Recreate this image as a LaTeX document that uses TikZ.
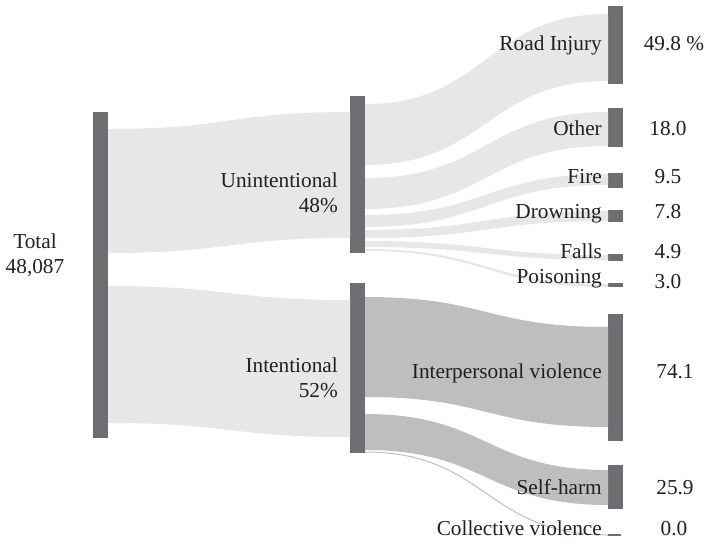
\documentclass[tikz,border=0pt]{standalone}
\usepackage{fontspec}
\setmainfont{Liberation Serif}
\usetikzlibrary{calc}
\definecolor{barc}{HTML}{6D6E71}
\definecolor{lightc}{HTML}{E6E7E8}
\definecolor{midc}{HTML}{BCBEC0}
\definecolor{txtc}{HTML}{231F20}
\tikzset{
  bar/.style={fill=barc, draw=none, minimum width=15pt, inner sep=0pt, outer sep=0pt},
  lbl/.style={anchor=base east, inner sep=0pt, text=txtc, font=\fontsize{21.3}{25}\selectfont, align=right},
  val/.style={anchor=base, inner sep=0pt, text=txtc, font=\fontsize{21.3}{25}\selectfont},
}
% #1 colour, #2 left node, #3/#4 top/bottom y at left, #5 right node, #6/#7 top/bottom y at right
\newcommand\ribbon[7]{%
  \fill[#1] let \p1=(#2.east), \p2=(#5.west), \n1={(\x1+\x2)/2} in
    (\x1,-#3pt) .. controls (\n1,-#3pt) and (\n1,-#6pt) .. (\x2,-#6pt)
    -- (\x2,-#7pt) .. controls (\n1,-#7pt) and (\n1,-#4pt) .. (\x1,-#4pt) -- cycle;}
\begin{document}
\begin{tikzpicture}[x=1pt,y=-1pt]
\useasboundingbox (0,0) rectangle (705,544);
% bars
\node[bar, minimum height=326pt] (tot) at (100.5,275) {};
\node[bar, minimum height=157pt] (unint) at (357.5,174.5) {};
\node[bar, minimum height=170pt] (inten) at (357.5,368) {};
\node[bar, minimum height=78pt] (road) at (615.5,45) {};
\node[bar, minimum height=39pt] (other) at (615.5,127.5) {};
\node[bar, minimum height=15pt] (fire) at (615.5,180) {};
\node[bar, minimum height=12pt] (drown) at (615.5,216) {};
\node[bar, minimum height=7pt] (falls) at (615.5,257) {};
\node[bar, minimum height=4pt] (poison) at (615.5,285) {};
\node[bar, minimum height=127pt] (interp) at (615.5,377.5) {};
\node[bar, minimum height=44pt] (self) at (615.5,487) {};
\node[bar, minimum height=1.2pt, minimum width=13pt] (coll) at (614.5,535) {};
% flows
\ribbon{lightc}{tot}{129}{253}{unint}{112}{238}
\ribbon{lightc}{tot}{286}{423}{inten}{300}{437}
\ribbon{lightc}{unint}{104}{165}{road}{14}{81}
\ribbon{lightc}{unint}{178}{209}{other}{112}{146}
\ribbon{lightc}{unint}{215}{227}{fire}{174}{185}
\ribbon{lightc}{unint}{230}{238}{drown}{211}{221}
\ribbon{lightc}{unint}{241}{247}{falls}{255}{260}
\ribbon{lightc}{unint}{249}{251}{poison}{284}{287}
\ribbon{midc}{inten}{297}{397}{interp}{327}{427}
\ribbon{midc}{inten}{414}{450}{self}{470}{505}
\draw[midc, line width=1pt] let \p1=(inten.east), \p2=(coll.west), \n1={(\x1+\x2)/2} in
  (\x1,-452pt) .. controls (\n1,-452pt) and (\n1,-535pt) .. (\x2,-535pt);
% labels
\node[val, align=center] (totl) at (35,273) {Total\\48,087};
\node[lbl] (unintl) at (338,212) {Unintentional\\48\%};
\node[lbl] (intenl) at (338,397) {Intentional\\52\%};
\node[lbl] (roadl) at (602,50) {Road Injury};
\node[lbl] (otherl) at (602,135) {Other};
\node[lbl] (firel) at (602,183) {Fire};
\node[lbl] (drownl) at (602,218) {Drowning};
\node[lbl] (fallsl) at (602,258) {Falls};
\node[lbl] (poisonl) at (602,283) {Poisoning};
\node[lbl] (interpl) at (602,378) {Interpersonal violence};
\node[lbl] (selfl) at (602,494) {Self-harm};
\node[lbl] (colll) at (602,535) {Collective violence};
% values
\node[val] (roadv) at (674,50) {49.8 \%};
\node[val] (otherv) at (668,135) {18.0};
\node[val] (firev) at (668,183) {9.5};
\node[val] (drownv) at (668,218) {7.8};
\node[val] (fallsv) at (668,258) {4.9};
\node[val] (poisonv) at (668,288) {3.0};
\node[val] (interpv) at (675,378) {74.1};
\node[val] (selfv) at (675,494) {25.9};
\node[val] (collv) at (674,535) {0.0};
\end{tikzpicture}
\end{document}
